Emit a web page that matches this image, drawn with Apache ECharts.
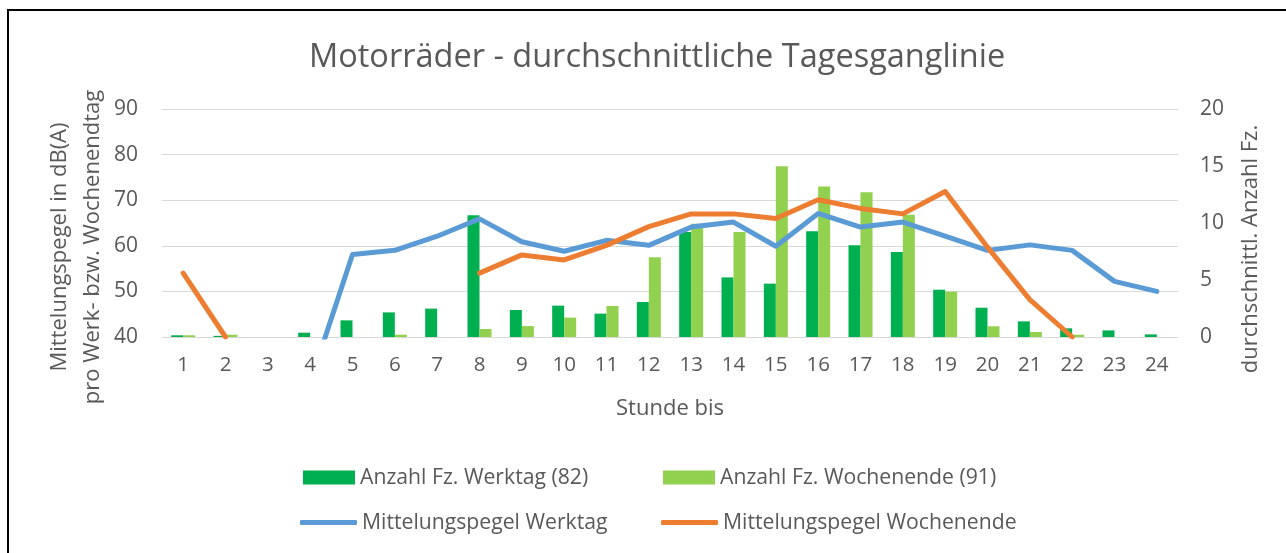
<!DOCTYPE html>
<html>
<head>
<meta charset="utf-8">
<script src="https://cdn.jsdelivr.net/npm/echarts@6/dist/echarts.min.js"></script>
<style>
  html, body { margin: 0; padding: 0; background: #fff; }
  #chart { width: 1286px; height: 553px; }
</style>
</head>
<body>
<div id="chart"></div>
<script>
// Stunde bis
var hours = ['1', '2', '3', '4', '5', '6', '7', '8', '9', '10', '11', '12',
  '13', '14', '15', '16', '17', '18', '19', '20', '21', '22', '23', '24'];

// durchschnittl. Anzahl Fz.
var anzahlWerktag = [0.15, 0.1, 0, 0.38, 1.46, 2.16, 2.49, 10.67, 2.37, 2.75, 2.05, 3.07,
  9.2, 5.23, 4.68, 9.27, 8.04, 7.46, 4.15, 2.57, 1.37, 0.76, 0.58, 0.23];
var anzahlWochenende = [0.15, 0.2, 0, 0, 0, 0.2, 0, 0.7, 0.96, 1.7, 2.72, 6.99,
  9.94, 9.2, 14.97, 13.2, 12.7, 10.73, 3.98, 0.94, 0.44, 0.2, 0, 0];

// Mittelungspegel in dB(A)
var pegelWerktag = [null, null, null, 30, 58.1, 59.0, 62.1, 65.9, 60.9, 58.8, 61.2, 60.1,
  64.1, 65.2, 59.9, 67.1, 64.1, 65.2, 62.1, 59.0, 60.2, 59.0, 52.2, 50.0];
var pegelWochenende = [54.0, 40, null, null, null, null, null, 54.0, 58.0, 56.9, 60.1, 64.2,
  67.0, 67.0, 66.0, 70.1, 68.2, 67.0, 71.9, 59.7, 48.2, 40, null, null];

var textColor = '#595959';
var fontName = 'Open Sans';

var chart = echarts.init(document.getElementById('chart'));

var legendText = { color: textColor, fontSize: 21.2, fontFamily: fontName };

var option = {
  animation: false,
  textStyle: { fontFamily: fontName },
  title: {
    text: 'Motorräder - durchschnittliche Tagesganglinie',
    left: 304,
    top: 36,
    textStyle: { color: textColor, fontSize: 32.5, fontWeight: 'normal', fontFamily: fontName }
  },
  grid: { left: 162, right: 108, top: 109, bottom: 216 },
  legend: [
    { data: ['Anzahl Fz. Werktag (82)'], left: 303, top: 467, padding: 0, itemWidth: 52, itemHeight: 14, textStyle: legendText, icon: 'rect' },
    { data: ['Anzahl Fz. Wochenende (91)'], left: 663, top: 467, padding: 0, itemWidth: 52, itemHeight: 14, textStyle: legendText, icon: 'rect' },
    { data: ['Mittelungspegel Werktag'], left: 300, top: 512, padding: 0, itemWidth: 57, itemHeight: 5, textStyle: legendText, icon: 'roundRect' },
    { data: ['Mittelungspegel Wochenende'], left: 661, top: 512, padding: 0, itemWidth: 57, itemHeight: 5, textStyle: legendText, icon: 'roundRect' }
  ],
  xAxis: {
    type: 'category',
    data: hours,
    axisLine: { lineStyle: { color: '#D9D9D9', width: 1 } },
    axisTick: { show: false },
    axisLabel: { color: textColor, fontSize: 20.5, margin: 18 },
    name: 'Stunde bis',
    nameLocation: 'middle',
    nameGap: 61,
    nameTextStyle: { color: textColor, fontSize: 22 }
  },
  yAxis: [
    {
      type: 'value',
      min: 40, max: 90, interval: 10,
      axisLine: { show: false },
      axisTick: { show: false },
      splitLine: { lineStyle: { color: '#D9D9D9', width: 1 } },
      axisLabel: { color: textColor, fontSize: 21, margin: 24 }
    },
    {
      type: 'value',
      min: 0, max: 20, interval: 5,
      axisLine: { show: false },
      axisTick: { show: false },
      splitLine: { show: false },
      axisLabel: { color: textColor, fontSize: 21, margin: 22 }
    }
  ],
  graphic: [
    {
      type: 'rect',
      shape: { x: 8, y: 10, width: 1300, height: 560 },
      style: { fill: 'none', stroke: '#000', lineWidth: 2 },
      silent: true
    },
    {
      type: 'text',
      x: 76, y: 247, rotation: Math.PI / 2,
      style: {
        text: 'Mittelungspegel in dB(A)\npro Werk- bzw. Wochenendtag',
        fill: textColor, fontSize: 22, fontFamily: fontName, lineHeight: 33,
        align: 'center', verticalAlign: 'middle'
      }
    },
    {
      type: 'text',
      x: 1251, y: 249, rotation: Math.PI / 2,
      style: {
        text: 'durchschnittl. Anzahl Fz.',
        fill: textColor, fontSize: 22, fontFamily: fontName,
        align: 'center', verticalAlign: 'middle'
      }
    }
  ],
  series: [
    {
      name: 'Anzahl Fz. Werktag (82)',
      type: 'bar',
      yAxisIndex: 1,
      data: anzahlWerktag,
      barWidth: 12,
      barGap: '0%',
      itemStyle: { color: '#00B050' }
    },
    {
      name: 'Anzahl Fz. Wochenende (91)',
      type: 'bar',
      yAxisIndex: 1,
      data: anzahlWochenende,
      barWidth: 12,
      barGap: '0%',
      itemStyle: { color: '#92D050' }
    },
    {
      name: 'Mittelungspegel Werktag',
      type: 'line',
      yAxisIndex: 0,
      data: pegelWerktag,
      showSymbol: false,
      symbol: 'none',
      clip: true,
      lineStyle: { color: '#5B9BD5', width: 5, cap: 'round', join: 'round' },
      itemStyle: { color: '#5B9BD5' }
    },
    {
      name: 'Mittelungspegel Wochenende',
      type: 'line',
      yAxisIndex: 0,
      data: pegelWochenende,
      showSymbol: false,
      symbol: 'none',
      clip: true,
      lineStyle: { color: '#ED7D31', width: 5, cap: 'round', join: 'round' },
      itemStyle: { color: '#ED7D31' }
    }
  ]
};

chart.setOption(option);
</script>
</body>
</html>
